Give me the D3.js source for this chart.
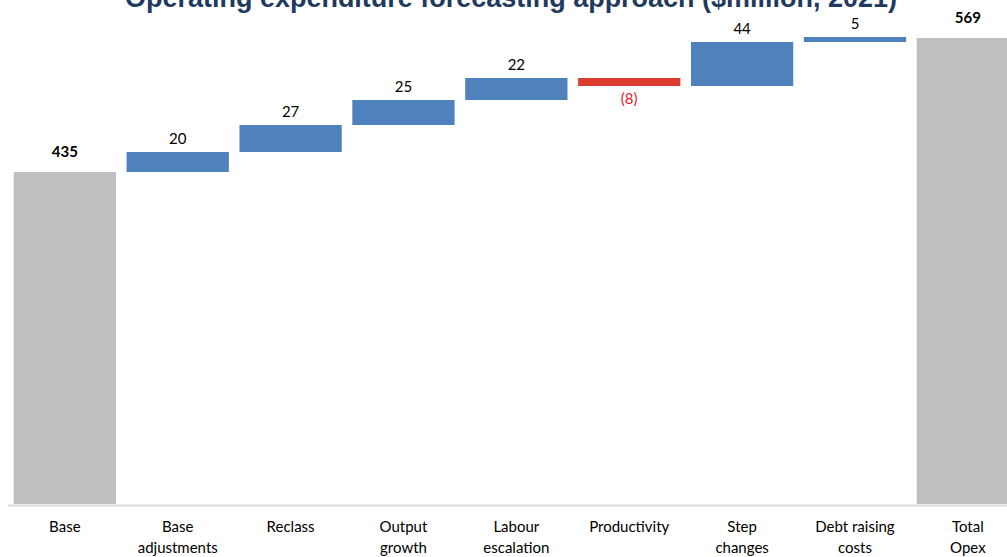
<!DOCTYPE html>
<html>
<head>
<meta charset="utf-8">
<script src="https://cdn.jsdelivr.net/npm/d3@7"></script>
<style>
  html, body { margin: 0; padding: 0; background: #fff; }
  svg { display: block; }
</style>
</head>
<body>
<svg id="chart" width="1007" height="557"></svg>
<script>
// ---- data ----
const categories = ["Base", "Base adjustments", "Reclass", "Output growth", "Labour escalation",
                    "Productivity", "Step changes", "Debt raising costs", "Total Opex"];
const categoryLines = [["Base"], ["Base", "adjustments"], ["Reclass"], ["Output", "growth"],
                       ["Labour", "escalation"], ["Productivity"], ["Step", "changes"],
                       ["Debt raising", "costs"], ["Total", "Opex"]];
const values = [435, 20, 27, 25, 22, -8, 44, 5, 569];
const kinds = ["total", "delta", "delta", "delta", "delta", "delta", "delta", "delta", "total"];
const valueLabels = ["435", "20", "27", "25", "22", "(8)", "44", "5", "569"];
const titleText = "Operating expenditure forecasting approach ($million, 2021)";

// ---- build waterfall ----
let running = 0;
const rows = categories.map((c, i) => {
  const v = values[i];
  let lo, hi;
  if (kinds[i] === "total") { lo = null; hi = v; running = v; }
  else { const start = running; running += v; lo = Math.min(start, running); hi = Math.max(start, running); }
  return { cat: c, lines: categoryLines[i], v, kind: kinds[i], lo, hi, label: valueLabels[i] };
});

const svg = d3.select("#chart");
const x = d3.scaleBand().domain(categories).range([3.1, 1029.6]).padding(0.094);
const y = d3.scaleLinear().domain([103, 569]).range([504, 38]);
const yBottom = y.range()[0];

const colors = { total: "#bfbfbf", pos: "#4f81bd", neg: "#dc3b2f" };

// baseline
svg.append("line")
  .attr("x1", 8).attr("x2", 1007)
  .attr("y1", yBottom + 1.5).attr("y2", yBottom + 1.5)
  .attr("stroke", "#d9d9d9").attr("stroke-width", 2);

// bars
svg.selectAll("rect.bar").data(rows).join("rect")
  .attr("class", "bar")
  .attr("x", d => x(d.cat))
  .attr("width", x.bandwidth())
  .attr("y", d => y(d.hi))
  .attr("height", d => d.kind === "total" ? yBottom - y(d.hi) : y(d.lo) - y(d.hi))
  .attr("fill", d => d.kind === "total" ? colors.total : (d.v < 0 ? colors.neg : colors.pos));

// value labels
svg.selectAll("text.val").data(rows).join("text")
  .attr("class", "val")
  .attr("x", d => x(d.cat) + x.bandwidth() / 2)
  .attr("y", d => {
    if (d.kind === "total") return y(d.hi) - 15;
    if (d.v < 0) return y(d.lo) + 18;
    return y(d.hi) - 8;
  })
  .attr("text-anchor", "middle")
  .attr("font-family", "Lato, 'Open Sans', sans-serif")
  .attr("font-size", 15)
  .attr("font-weight", d => d.kind === "total" ? "bold" : "normal")
  .attr("fill", d => d.v < 0 ? "#e8202a" : "#000")
  .text(d => d.label);

// category labels
const cl = svg.selectAll("text.cat").data(rows).join("text")
  .attr("class", "cat")
  .attr("text-anchor", "middle")
  .attr("font-family", "Lato, 'Open Sans', sans-serif")
  .attr("font-size", 15)
  .attr("fill", "#000");
cl.selectAll("tspan").data(d => d.lines.map(l => ({ l, cat: d.cat }))).join("tspan")
  .attr("x", d => x(d.cat) + x.bandwidth() / 2)
  .attr("y", (d, i) => yBottom + 28 + i * 21)
  .text(d => d.l);

// title (cropped at top)
const title = svg.append("text")
  .attr("x", 511).attr("y", 6.5)
  .attr("text-anchor", "middle")
  .attr("font-family", "'Liberation Sans', Arial, sans-serif")
  .attr("font-weight", "bold")
  .attr("font-size", 23)
  .attr("fill", "#1f3a5f")
  .text(titleText);
const tw = title.node().getComputedTextLength();
title.attr("font-size", 23 * 772 / tw);
</script>
</body>
</html>
